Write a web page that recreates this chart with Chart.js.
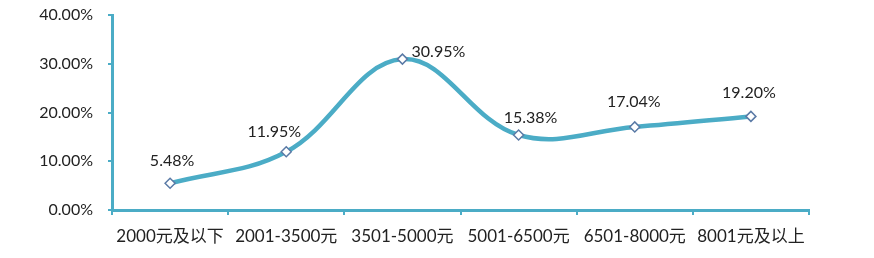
<!DOCTYPE html>
<html>
<head>
<meta charset="utf-8">
<script src="https://cdn.jsdelivr.net/npm/chart.js@4/dist/chart.umd.min.js"></script>
<style>
  body { margin: 0; background: #fff; }
  canvas { display: block; }
</style>
</head>
<body>
<canvas id="incomeChart" width="874" height="258"></canvas>
<script>
// chart data
const categories = ['2000元及以下', '2001-3500元', '3501-5000元', '5001-6500元', '6501-8000元', '8001元及以上'];
const shares = [5.48, 11.95, 30.95, 15.38, 17.04, 19.20];
const yTicks = [0, 10, 20, 30, 40];

const teal = '#4bacc6';
const textFont = "Lato, 'Noto Sans CJK SC', sans-serif";

// draws the value labels next to each point
const valueLabels = {
  id: 'valueLabels',
  afterDatasetsDraw(chart, args, opts) {
    const ctx = chart.ctx;
    const meta = chart.getDatasetMeta(0);
    ctx.save();
    ctx.font = '16px ' + textFont;
    ctx.fillStyle = '#222';
    ctx.textAlign = 'center';
    ctx.textBaseline = 'middle';
    meta.data.forEach(function (pt, i) {
      const off = opts.offsets[i] || [0, -22];
      ctx.fillText(shares[i].toFixed(2) + '%', pt.x + off[0], pt.y + off[1]);
    });
    ctx.restore();
  }
};

const ctx = document.getElementById('incomeChart').getContext('2d');
const incomeChart = new Chart(ctx, {
  type: 'line',
  data: {
    labels: categories,
    datasets: [{
      data: shares,
      borderColor: teal,
      borderWidth: 4.5,
      tension: 0.38,
      pointStyle: 'rectRot',
      pointRadius: 5,
      pointBorderWidth: 1.5,
      pointBorderColor: '#5a7aa6',
      pointBackgroundColor: '#fff'
    }]
  },
  options: {
    responsive: false,
    animation: false,
    layout: { padding: { top: 15, right: 65, left: 0, bottom: 0 } },
    plugins: {
      legend: { display: false },
      tooltip: { enabled: false },
      valueLabels: {
        offsets: [[2, -22], [-12, -20], [36, -7], [12, -17], [-1, -25], [-2, -24]]
      }
    },
    scales: {
      x: {
        offset: true,
        grid: {
          offset: true,
          drawOnChartArea: false,
          color: teal,
          lineWidth: 2,
          tickLength: 5
        },
        border: { color: teal, width: 3 },
        ticks: {
          color: '#222',
          font: { size: 17, family: textFont },
          padding: 11,
          maxRotation: 0,
          autoSkip: false
        },
        afterFit(scale) {
          scale.height = 48;
          scale.paddingLeft = 0;
          scale.paddingRight = 0;
        }
      },
      y: {
        min: 0,
        max: 40,
        afterBuildTicks(scale) {
          scale.ticks = yTicks.map(v => ({ value: v }));
        },
        grid: {
          drawOnChartArea: false,
          color: teal,
          lineWidth: 2,
          tickLength: 4
        },
        border: { color: teal, width: 3 },
        ticks: {
          color: '#222',
          font: { size: 16, family: textFont },
          padding: 15,
          callback: v => v.toFixed(2) + '%'
        },
        afterFit(scale) {
          scale.width = 112;
          scale.paddingTop = 0;
          scale.paddingBottom = 0;
        }
      }
    }
  },
  plugins: [valueLabels]
});
</script>
</body>
</html>
